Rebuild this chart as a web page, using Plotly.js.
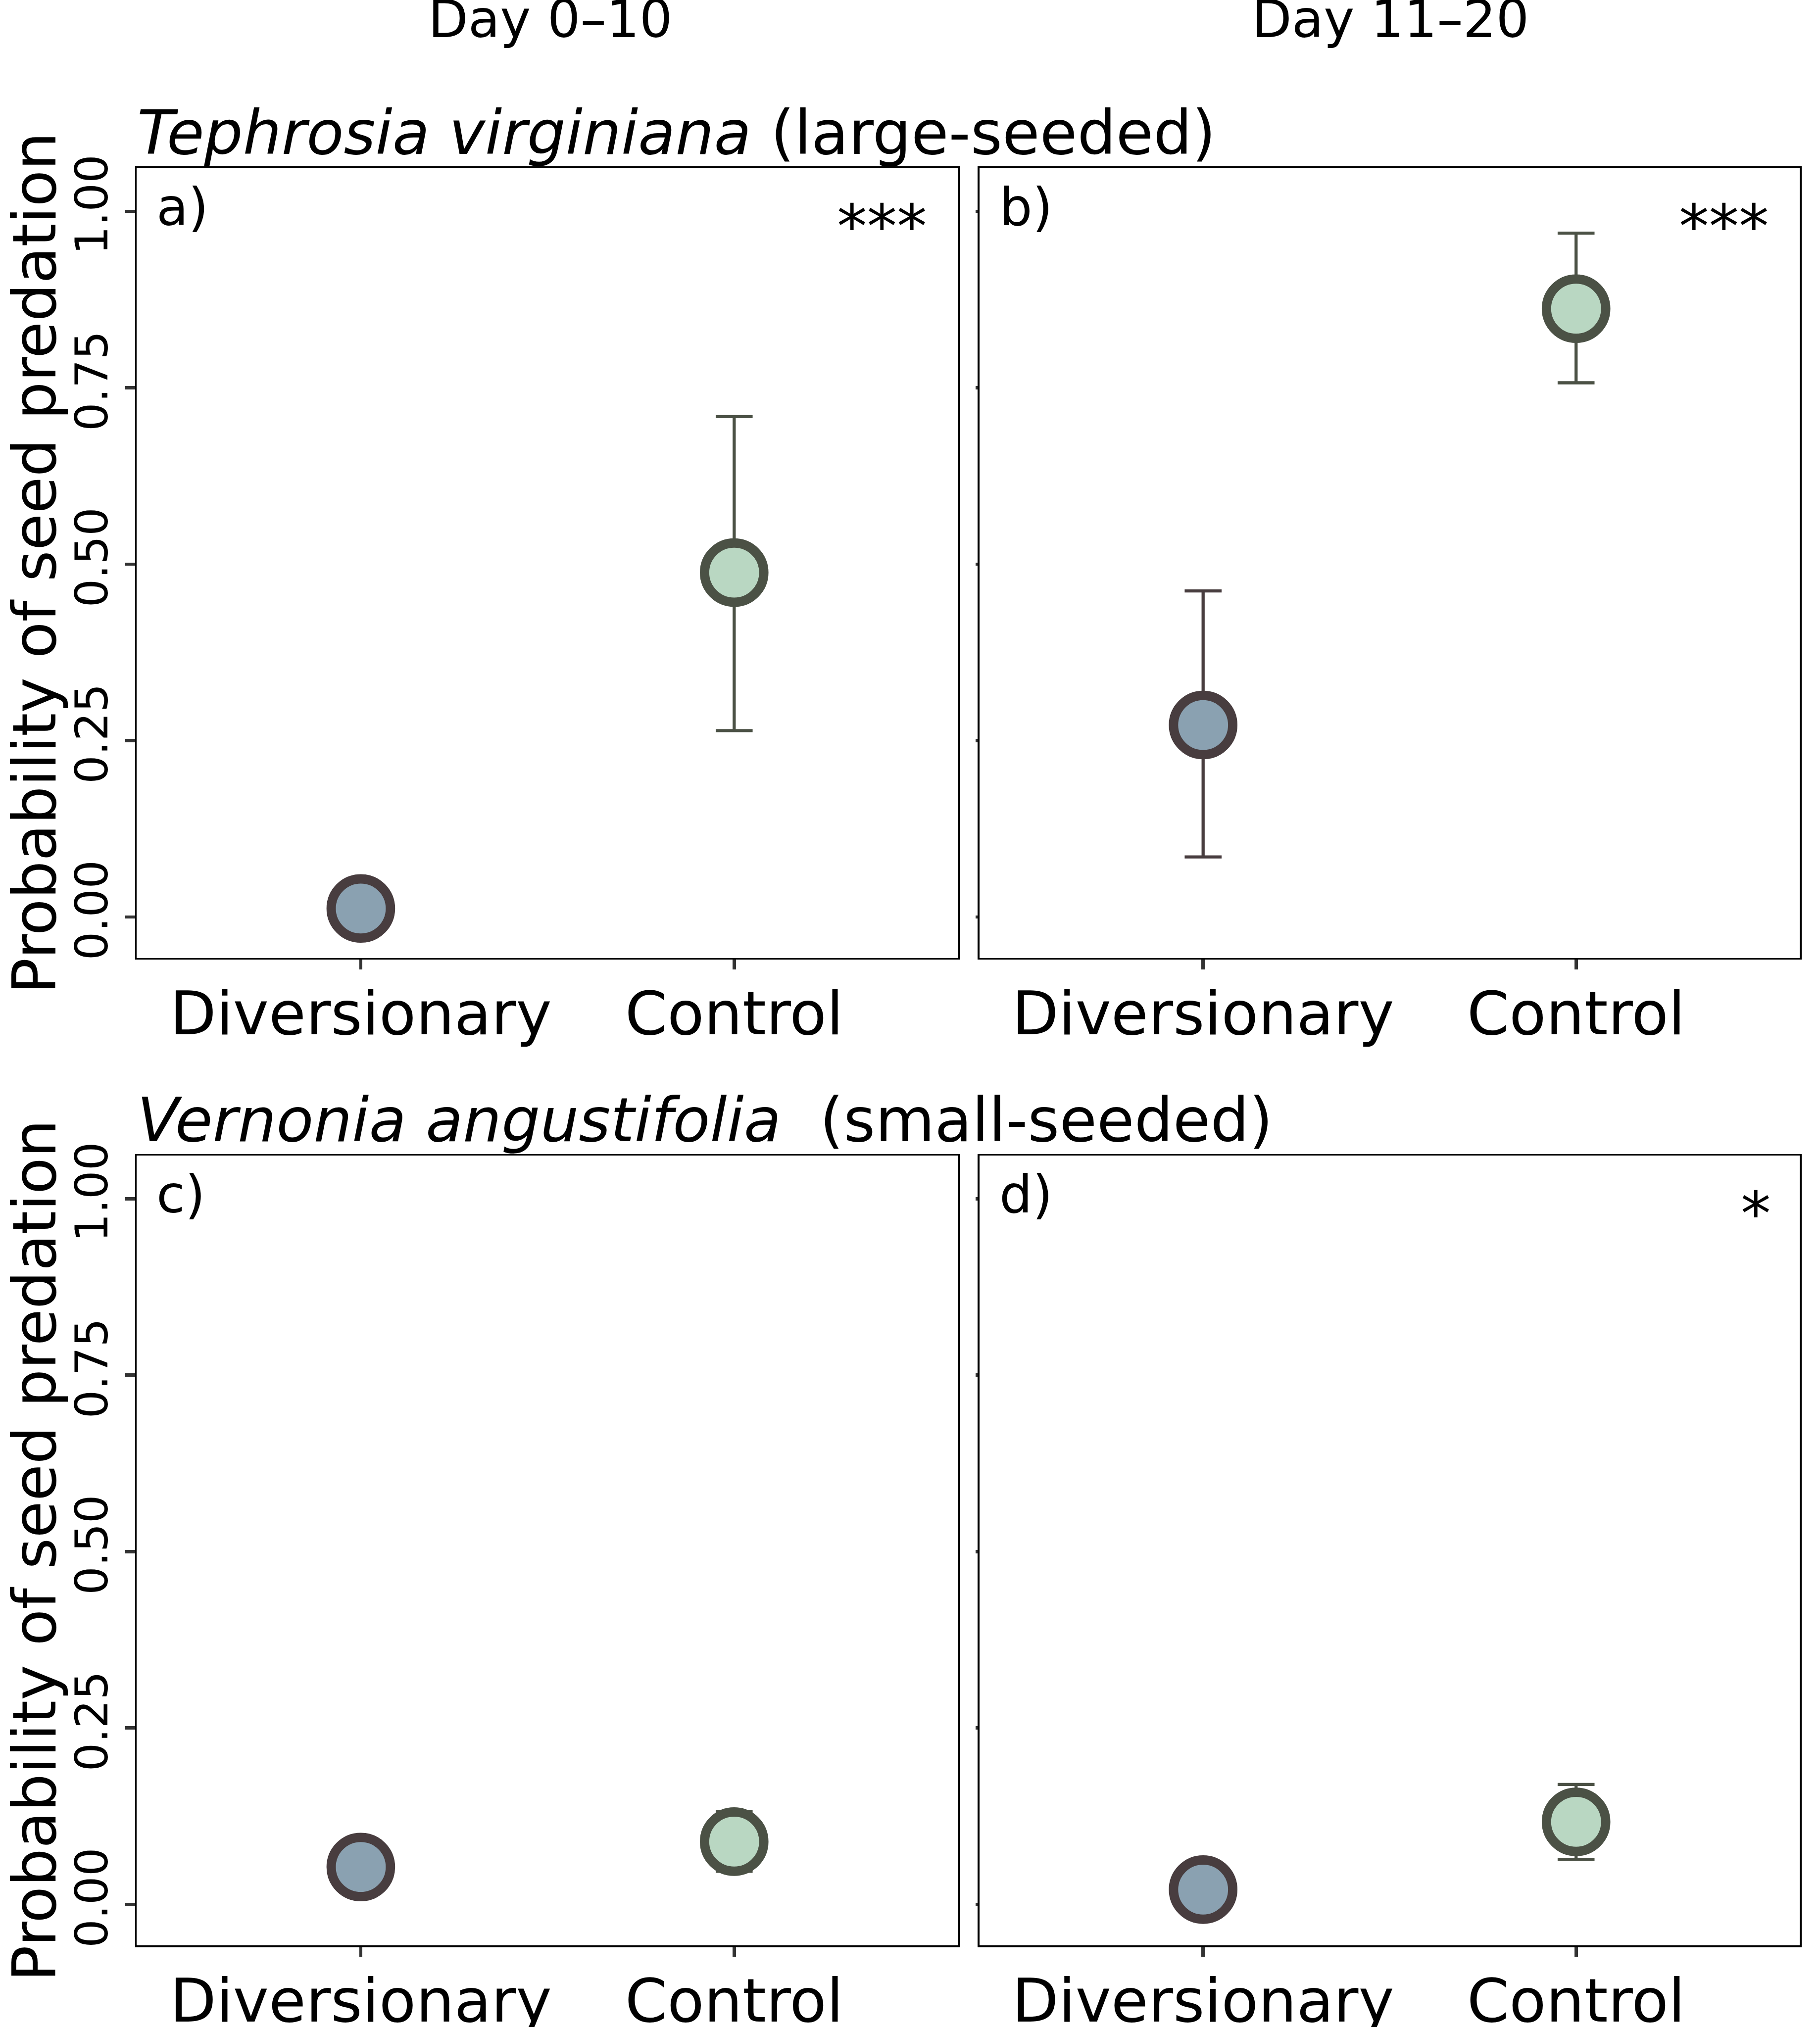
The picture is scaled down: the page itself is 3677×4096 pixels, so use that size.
<!DOCTYPE html>
<html>
<head>
<meta charset="utf-8">
<script src="https://cdn.plot.ly/plotly-3.0.1.min.js"></script>
<style>html,body{margin:0;padding:0;background:#fff;}#chart{width:3677px;height:4096px;}</style>
</head>
<body>
<div id="chart"></div>
<script>
// ---------- data ----------
const treatments = ["Diversionary", "Control"];
const dayTitles = ["Day 0\u201310", "Day 11\u201320"];
const speciesTitles = ["<i>Tephrosia virginiana</i> (large-seeded)", "<i>Vernonia angustifolia</i>\u00a0 (small-seeded)"];
const panelLabels = ["a)", "b)", "c)", "d)"];
const significance = ["***", "***", "", "*"];
const divMean = [0.012, 0.272, 0.053, 0.021];
const divLow = [null, 0.085, null, null];
const divHigh = [null, 0.462, null, null];
const ctrlMean = [0.488, 0.862, 0.089, 0.117];
const ctrlLow = [0.264, 0.757, 0.047, 0.064];
const ctrlHigh = [0.709, 0.969, 0.132, 0.170];
const yTickVals = [0, 0.25, 0.5, 0.75, 1];
const yTickText = ["0.00", "0.25", "0.50", "0.75", "1.00"];
const yAxisTitle = "Probability of seed predation";

// ---------- style ----------
const W = 3677, H = 4096;
const FONT = "DejaVu Sans";
const colDiv = {fill: "#8AA1B1", line: "#483D3F"};
const colCtrl = {fill: "#B9D7C2", line: "#4B5145"};
const xDom = [[276.3 / W, 1935.9 / W], [1978.6 / W, 3636.3 / W]];
const yDom = [[1 - 1935.6 / H, 1 - 340.0 / H], [1 - 3931.0 / H, 1 - 2335.3 / H]];
const mSize = 119.7, mLine = 18.9;

const traces = [];
const layout = {
  width: W, height: H,
  margin: {l: 0, r: 0, t: 0, b: 0, pad: 0},
  paper_bgcolor: "#ffffff", plot_bgcolor: "#ffffff",
  showlegend: false,
  font: {family: FONT, color: "#000000"},
  annotations: []
};

function errObj(mean, lo, hi, color) {
  if (lo === null || hi === null) return {visible: false};
  return {type: "data", symmetric: false, array: [hi - mean], arrayminus: [mean - lo],
          color: color, thickness: 6.3, width: 37.3, visible: true};
}

for (let p = 0; p < 4; p++) {
  const row = Math.floor(p / 2), col = p % 2;
  const n = p + 1;
  const xa = n === 1 ? "x" : "x" + n;
  const ya = n === 1 ? "y" : "y" + n;
  traces.push({
    type: "scatter", mode: "markers", xaxis: xa, yaxis: ya,
    x: [treatments[0]], y: [divMean[p]],
    error_y: errObj(divMean[p], divLow[p], divHigh[p], colDiv.line),
    marker: {size: mSize, color: colDiv.fill, line: {color: colDiv.line, width: mLine}},
    cliponaxis: false, hoverinfo: "skip"
  });
  traces.push({
    type: "scatter", mode: "markers", xaxis: xa, yaxis: ya,
    x: [treatments[1]], y: [ctrlMean[p]],
    error_y: errObj(ctrlMean[p], ctrlLow[p], ctrlHigh[p], colCtrl.line),
    marker: {size: mSize, color: colCtrl.fill, line: {color: colCtrl.line, width: mLine}},
    cliponaxis: false, hoverinfo: "skip"
  });
  const xKey = n === 1 ? "xaxis" : "xaxis" + n;
  const yKey = n === 1 ? "yaxis" : "yaxis" + n;
  layout[xKey] = {
    domain: xDom[col], anchor: ya, type: "category", categoryorder: "array", categoryarray: treatments,
    range: [-0.6, 1.6], fixedrange: true,
    showgrid: false, zeroline: false,
    showline: true, mirror: true, linecolor: "#000000", linewidth: 3.6,
    ticks: "outside", ticklen: 19.4, tickwidth: 6.8, tickcolor: "#333333",
    tickfont: {family: FONT, size: 122, color: "#000000"},
    ticklabelstandoff: -15
  };
  layout[yKey] = {
    domain: yDom[row], anchor: xa, range: [-0.058, 1.061], fixedrange: true,
    showgrid: false, zeroline: false,
    showline: true, mirror: true, linecolor: "#000000", linewidth: 3.6,
    tickmode: "array", tickvals: yTickVals, ticktext: yTickText,
    ticks: "outside", ticklen: col === 0 ? 19.4 : 4, tickwidth: 6.8, tickcolor: "#333333",
    showticklabels: col === 0, tickangle: -90,
    tickfont: {family: FONT, size: 91, color: "#000000"},
    ticklabelstandoff: 0
  };
  if (col === 0) {
    layout[yKey].title = {text: yAxisTitle, font: {family: FONT, size: 121, color: "#000000"}, standoff: 42};
  }
  // panel letter
  layout.annotations.push({
    xref: xa + " domain", yref: ya + " domain", x: 0, y: 1, xanchor: "left", yanchor: "top",
    xshift: 38, yshift: -15.8, text: panelLabels[p], showarrow: false,
    font: {family: FONT, size: 105, color: "#000000"}
  });
  // significance
  if (significance[p]) {
    layout.annotations.push({
      xref: xa + " domain", yref: ya + " domain", x: 1, y: 1, xanchor: "right", yanchor: "top",
      xshift: significance[p].length === 1 ? -56 : -60.5, yshift: -46, text: significance[p], showarrow: false,
      font: {family: FONT, size: 121, color: "#000000"}
    });
  }
}

// column titles
for (let c = 0; c < 2; c++) {
  layout.annotations.push({
    xref: (c === 0 ? "x" : "x2") + " domain", yref: "paper", x: 0.5, y: 1 - 102.3 / H,
    xanchor: "center", yanchor: "bottom", xshift: c === 0 ? 6 : 2,
    text: dayTitles[c], showarrow: false, font: {family: FONT, size: 105, color: "#000000"}
  });
}
// row titles
for (let r = 0; r < 2; r++) {
  layout.annotations.push({
    xref: (r === 0 ? "x" : "x3") + " domain", yref: (r === 0 ? "y" : "y3") + " domain",
    x: 0, y: 1, xanchor: "left", yanchor: "bottom", xshift: -1, yshift: -2,
    text: speciesTitles[r], showarrow: false, font: {family: FONT, size: 123, color: "#000000"}
  });
}

Plotly.newPlot("chart", traces, layout, {staticPlot: true, displayModeBar: false});
</script>
</body>
</html>
